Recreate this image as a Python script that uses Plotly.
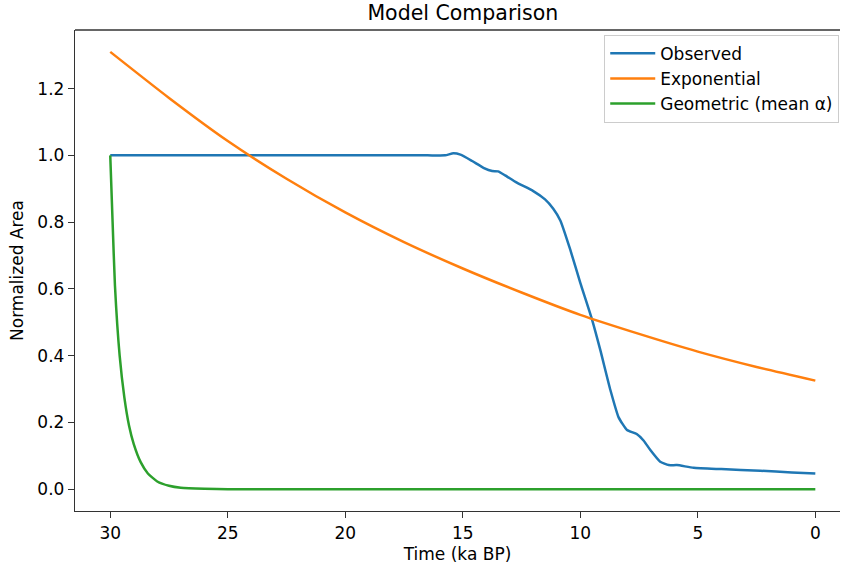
import plotly.graph_objects as go

# ---- data ----
obs_t = [30.0, 25.0, 20.0, 16.5, 15.75, 15.4, 15.1, 14.6, 14.1, 13.75, 13.5, 13.2, 12.7, 12.0, 11.5,
         11.15, 10.85, 10.43, 10.0, 9.5, 9.15, 8.72, 8.37, 8.01, 7.6, 7.3, 7.02, 6.6, 6.24, 5.89,
         5.18, 4.0, 2.34, 1.0, 0.0]
obs_v = [1.0, 1.0, 1.0, 1.0, 1.0, 1.006, 1.002, 0.983, 0.962, 0.953, 0.952, 0.940, 0.918, 0.893, 0.868,
         0.840, 0.805, 0.718, 0.618, 0.508, 0.417, 0.297, 0.215, 0.177, 0.165, 0.145, 0.117, 0.082, 0.072, 0.072,
         0.064, 0.060, 0.055, 0.050, 0.047]

exp_t = [30.0, 27.5, 25.0, 22.5, 20.0, 17.5, 15.0, 12.5, 10.0, 7.5, 5.0, 2.5, 0.0]
exp_v = [1.31, 1.172, 1.043, 0.930, 0.829, 0.740, 0.661, 0.589, 0.522, 0.465, 0.412, 0.366, 0.325]

geo_t = [30.0, 29.9, 29.8, 29.6, 29.4, 29.2, 29.0, 28.7, 28.4, 28.0, 27.5, 27.0, 26.0, 25.0, 15.0, 0.0]
geo_v = [1.0, 0.80, 0.61, 0.40, 0.275, 0.19, 0.135, 0.08, 0.047, 0.023, 0.010, 0.004, 0.001, 0.0, 0.0, 0.0]

x_ticks = [30, 25, 20, 15, 10, 5, 0]
y_ticks = [0.0, 0.2, 0.4, 0.6, 0.8, 1.0, 1.2]

FONT = "DejaVu Sans"
SPINE = "#333333"

fig = go.Figure()
fig.add_trace(go.Scatter(x=obs_t, y=obs_v, mode="lines", name="Observed",
                         line=dict(color="#1f77b4", width=2.5, shape="spline", smoothing=0.45)))
fig.add_trace(go.Scatter(x=exp_t, y=exp_v, mode="lines", name="Exponential",
                         line=dict(color="#ff7f0e", width=2.5, shape="spline", smoothing=0.6)))
fig.add_trace(go.Scatter(x=geo_t, y=geo_v, mode="lines", name="Geometric (mean α)",
                         line=dict(color="#2ca02c", width=2.5, shape="spline", smoothing=0.5)))

fig.update_layout(
    width=841, height=571,
    margin=dict(l=75, r=1, t=30, b=60),
    paper_bgcolor="white", plot_bgcolor="white",
    font=dict(family=FONT, size=17, color="black"),
    title=dict(text="Model Comparison", x=0.507, xref="paper", y=0.978, yref="container",
               xanchor="center", yanchor="middle", font=dict(size=20.5, color="black")),
    showlegend=True,
    legend=dict(x=0.999, y=0.99, xanchor="right", yanchor="top",
                bgcolor="rgba(255,255,255,0.8)", bordercolor="#cccccc", borderwidth=1,
                font=dict(size=17, color="black"), tracegroupgap=0, itemwidth=45),
)
fig.update_xaxes(range=[31.5, -1.05], tickvals=x_ticks, ticktext=[str(v) for v in x_ticks],
                 showgrid=False, zeroline=False, showline=True, linecolor=SPINE, linewidth=1.4,
                 ticks="outside", ticklen=6, tickcolor=SPINE, tickwidth=1.4,
                 tickfont=dict(size=17, color="black"),
                 title=dict(text="Time (ka BP)", standoff=6, font=dict(size=17, color="black")))
fig.update_yaxes(range=[-0.0655, 1.3755], tickvals=y_ticks, ticktext=[f"{v:.1f}" for v in y_ticks],
                 showgrid=False, zeroline=False, showline=True, linecolor=SPINE, linewidth=1.4,
                 ticks="outside", ticklen=6, tickcolor=SPINE, tickwidth=1.4,
                 tickfont=dict(size=17, color="black"),
                 title=dict(text="Normalized Area", standoff=9, font=dict(size=17, color="black")))
# top spine (right spine is outside the visible canvas in the reference)
fig.add_shape(type="line", xref="paper", yref="paper", x0=0, x1=1, y0=1, y1=1,
              line=dict(color=SPINE, width=1.4))

fig.write_html("out.html")
